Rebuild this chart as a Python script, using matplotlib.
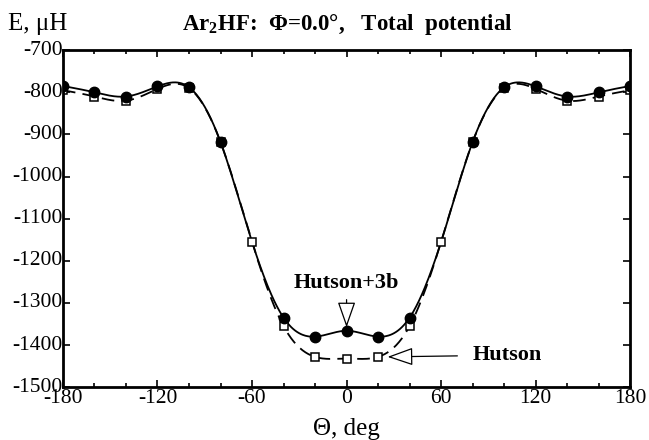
import numpy as np
import matplotlib
matplotlib.use("Agg")
import matplotlib.pyplot as plt
from matplotlib.ticker import MultipleLocator

plt.rcParams['font.family'] = ['Liberation Serif', 'DejaVu Serif']
plt.rcParams['axes.unicode_minus'] = False
plt.rcParams['mathtext.fontset'] = 'custom'
plt.rcParams['mathtext.rm'] = 'Liberation Serif'
plt.rcParams['mathtext.bf'] = 'Liberation Serif:bold'

# angle grid, degrees
theta = [-180, -160, -140, -120, -100, -80, -60, -40, -20, 0,
         20, 40, 60, 80, 100, 120, 140, 160, 180]

# Hutson + three-body, micro-hartree
e_3b = [-785, -800, -810, -786, -788, -918, -1155, -1335, -1380, -1366,
        -1380, -1335, -1155, -918, -788, -786, -810, -800, -785]

# Hutson pair potential only
e_hutson = [-795, -810, -820, -792, -790, -918, -1155, -1355, -1428, -1432,
            -1428, -1355, -1155, -918, -790, -792, -820, -810, -795]


def natural_spline(x, y, n=600):
    """Smooth curve through the points (natural cubic spline)."""
    x = np.asarray(x, float)
    y = np.asarray(y, float)
    h = np.diff(x)
    k = len(x)
    A = np.zeros((k, k))
    b = np.zeros(k)
    A[0, 0] = A[-1, -1] = 1.0
    for i in range(1, k - 1):
        A[i, i - 1] = h[i - 1]
        A[i, i] = 2 * (h[i - 1] + h[i])
        A[i, i + 1] = h[i]
        b[i] = 6 * ((y[i + 1] - y[i]) / h[i] - (y[i] - y[i - 1]) / h[i - 1])
    m = np.linalg.solve(A, b)
    xs = np.linspace(x[0], x[-1], n)
    idx = np.clip(np.searchsorted(x, xs) - 1, 0, k - 2)
    t0 = xs - x[idx]
    t1 = x[idx + 1] - xs
    hi = h[idx]
    ys = (m[idx] * t1**3 + m[idx + 1] * t0**3) / (6 * hi) \
        + (y[idx] / hi - m[idx] * hi / 6) * t1 \
        + (y[idx + 1] / hi - m[idx + 1] * hi / 6) * t0
    return xs, ys


fig = plt.figure(figsize=(6.49, 4.4), dpi=100)
ax = fig.add_axes([0.097, 0.120, 0.874, 0.766])

xs, ys = natural_spline(theta, e_hutson)
ax.plot(xs, ys, color='black', lw=1.3, ls=(0, (7, 4)))
xs, ys = natural_spline(theta, e_3b)
ax.plot(xs, ys, color='black', lw=1.3)

ax.plot(theta, e_hutson, ls='none', marker='s', ms=6, mfc='white',
        mec='black', mew=1.1)
circ = [i for i, t in enumerate(theta) if abs(t) != 60]
ax.plot([theta[i] for i in circ], [e_3b[i] for i in circ], ls='none',
        marker='o', ms=7.5, color='black')

ax.set_xlim(-180, 180)
ax.set_ylim(-1500, -700)
ax.xaxis.set_major_locator(MultipleLocator(60))
ax.xaxis.set_minor_locator(MultipleLocator(20))
ax.yaxis.set_major_locator(MultipleLocator(100))
ax.tick_params(which='both', direction='in', top=True, right=True,
               labelsize=15.5, width=1.2)
ax.tick_params(which='major', length=5, pad=1)
ax.tick_params(axis='y', pad=0)
ax.tick_params(which='minor', length=3)
for lab in ax.get_yticklabels():
    lab.set_verticalalignment('center')
for s in ax.spines.values():
    s.set_linewidth(2)

ax.annotate('Hutson+3b', xy=(0, -1358), xytext=(0, -1252),
            ha='center', va='center', fontsize=16, fontweight='bold',
            arrowprops=dict(arrowstyle='-|>,head_width=0.35,head_length=1.0',
                            fc='white', ec='black', lw=0.9,
                            shrinkA=3, shrinkB=0))
ax.annotate('Hutson', xy=(26, -1428), xytext=(102, -1424),
            ha='center', va='center', fontsize=16, fontweight='bold',
            arrowprops=dict(arrowstyle='-|>,head_width=0.35,head_length=1.0',
                            fc='white', ec='black', lw=0.9,
                            shrinkA=9, shrinkB=0))

fig.text(0.535, 0.932, r'Ar$_\mathbf{2}$HF:  Φ=0.0°,   Total  potential',
         ha='center', va='baseline', fontsize=16.5, fontweight='bold')
fig.text(0.012, 0.932, 'E, μH', ha='left', va='baseline', fontsize=18)
fig.text(0.534, 0.012, 'Θ, deg', ha='center', va='baseline', fontsize=18)

fig.savefig('out.png', dpi=100)
